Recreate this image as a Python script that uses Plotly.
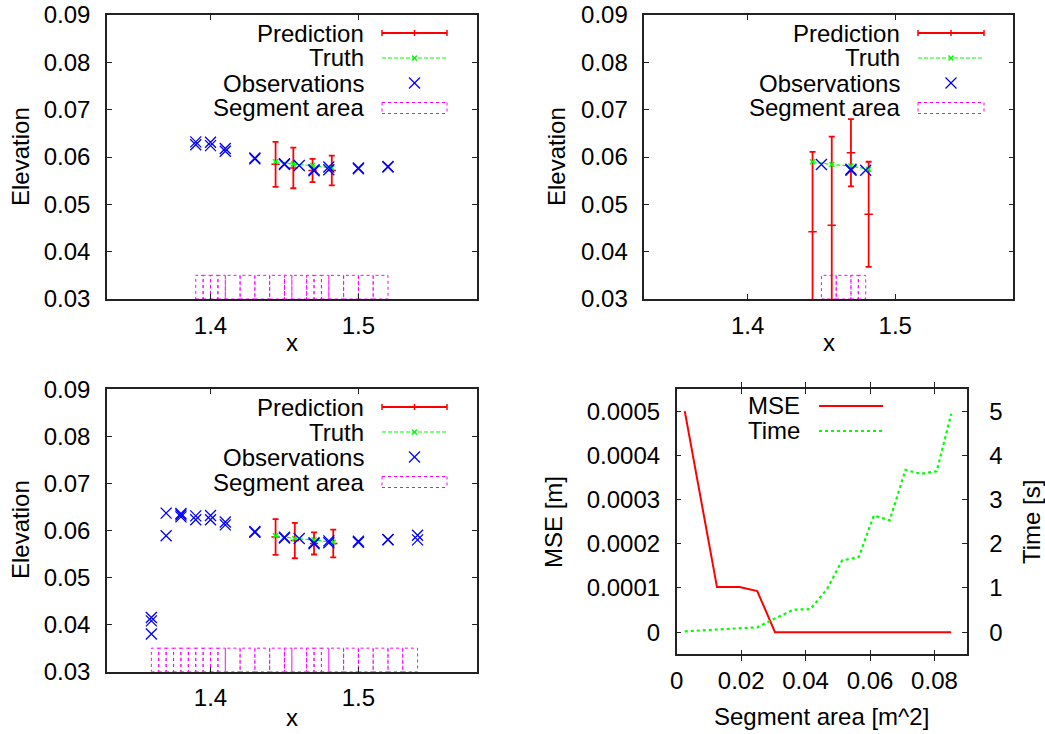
import plotly.graph_objects as go

W, H = 1045, 734

# ---- panel data (top-left / top-right / bottom-left) ----
obs_x_a = [1.39, 1.39, 1.40, 1.40, 1.41, 1.41, 1.43, 1.43, 1.45, 1.45, 1.46,
           1.47, 1.47, 1.48, 1.48, 1.50, 1.50, 1.52, 1.52]
obs_y_a = [0.0632, 0.0626, 0.0631, 0.0624, 0.0618, 0.0612, 0.0598, 0.0596, 0.0586, 0.0584, 0.0582,
           0.0573, 0.0571, 0.0579, 0.0573, 0.0577, 0.0575, 0.0580, 0.0579]
pred_x_a = [1.444, 1.456, 1.469, 1.482]
pred_y_a = [0.05845, 0.0577, 0.05715, 0.05715]
pred_e_a = [0.00475, 0.0043, 0.00245, 0.00315]
truth_y_a = [0.0590, 0.0585, 0.0582, 0.0577]
seg_a = [1.39, 1.395, 1.40, 1.405, 1.41, 1.42, 1.43, 1.44, 1.45, 1.455, 1.465,
         1.47, 1.475, 1.48, 1.49, 1.50, 1.51, 1.52]

obs_x_b = [1.45, 1.47, 1.47, 1.48]
obs_y_b = [0.0584, 0.0574, 0.0572, 0.0572]
pred_x_b = [1.444, 1.457, 1.470, 1.482]
pred_y_b = [0.0442, 0.0456, 0.0609, 0.0479]
pred_e_b = [0.0169, 0.0187, 0.0071, 0.0111]
truth_y_b = [0.0590, 0.0584, 0.0581, 0.0574]
seg_b = [1.45, 1.46, 1.47, 1.475, 1.48]

obs_x_c = [1.36, 1.36, 1.36, 1.37, 1.37, 1.38, 1.38, 1.38, 1.39, 1.39, 1.40, 1.40,
           1.41, 1.41, 1.43, 1.43, 1.45, 1.45, 1.46, 1.47, 1.47, 1.48, 1.48,
           1.50, 1.50, 1.52, 1.52, 1.54, 1.54]
obs_y_c = [0.0415, 0.0408, 0.0380, 0.0637, 0.0589, 0.0636, 0.0633, 0.0629, 0.0631, 0.0623,
           0.0632, 0.0623, 0.0618, 0.0612, 0.0598, 0.0596, 0.0586, 0.0584, 0.0583,
           0.0574, 0.0572, 0.0578, 0.0574, 0.0577, 0.0575, 0.0581, 0.0580, 0.0590, 0.0580]
pred_x_c = [1.444, 1.457, 1.470, 1.483]
pred_y_c = [0.0586, 0.05785, 0.05725, 0.05725]
pred_e_c = [0.0038, 0.00375, 0.00235, 0.00295]
truth_y_c = [0.0589, 0.0583, 0.0580, 0.0575]
seg_c = [1.36, 1.365, 1.37, 1.375, 1.38, 1.385, 1.39, 1.395, 1.40, 1.405, 1.41, 1.42,
         1.43, 1.44, 1.45, 1.455, 1.465, 1.47, 1.475, 1.48, 1.49, 1.50, 1.51, 1.52,
         1.53, 1.54]
seg_base, seg_top = 0.03, 0.035

# ---- bottom-right: MSE / time vs segment area ----
seg_area = [0.0025, 0.0125, 0.0195, 0.025, 0.0305, 0.0363, 0.0415, 0.0467, 0.0513,
            0.0565, 0.0612, 0.0661, 0.071, 0.0757, 0.0807, 0.0852]
mse = [0.0005, 0.000102, 0.000102, 0.000093, 0, 0, 0, 0, 0, 0, 0, 0, 0, 0, 0, 0]
run_time = [0.02, 0.06, 0.08, 0.11, 0.31, 0.51, 0.52, 0.98, 1.62, 1.70, 2.64, 2.53,
            3.67, 3.58, 3.64, 4.94]

RED, GREEN, BLUE, MAG = "#ff0000", "#00ff00", "#0000ff", "#ff00ff"
FONT = "Liberation Sans, Arial, sans-serif"
FS = 24
TRUTH_DASH = "4px,2px"


def px(x):
    return x / W


def py(y):
    return 1 - y / H


def seg_path(edges):
    xs, ys = [], []
    for a, b in zip(edges[:-1], edges[1:]):
        xs += [a, b, b, a, a, None]
        ys += [seg_base, seg_base, seg_top, seg_top, seg_base, None]
    return xs, ys


fig = go.Figure()

panels = [
    ("x", "y", obs_x_a, obs_y_a, pred_x_a, pred_y_a, pred_e_a, truth_y_a, seg_a),
    ("x2", "y2", obs_x_b, obs_y_b, pred_x_b, pred_y_b, pred_e_b, truth_y_b, seg_b),
    ("x3", "y3", obs_x_c, obs_y_c, pred_x_c, pred_y_c, pred_e_c, truth_y_c, seg_c),
]
for xa, ya, ox, oy, prx, pry, pre, ty, seg in panels:
    sx, sy = seg_path(seg)
    fig.add_trace(go.Scatter(x=sx, y=sy, mode="lines", xaxis=xa, yaxis=ya,
                             line=dict(color=MAG, width=1, dash="dot"), showlegend=False))
    fig.add_trace(go.Scatter(x=prx, y=pry, mode="markers", xaxis=xa, yaxis=ya,
                             marker=dict(symbol="line-ew", size=6, color=RED,
                                         line=dict(color=RED, width=1.5)),
                             error_y=dict(type="data", array=pre, color=RED,
                                          thickness=1.8, width=3),
                             showlegend=False))
    fig.add_trace(go.Scatter(x=prx, y=ty, mode="lines+markers", xaxis=xa, yaxis=ya,
                             line=dict(color=GREEN, width=1.2, dash=TRUTH_DASH),
                             marker=dict(symbol="x-thin", size=5, color=GREEN,
                                         line=dict(color=GREEN, width=1.5)),
                             showlegend=False))
    fig.add_trace(go.Scatter(x=ox, y=oy, mode="markers", xaxis=xa, yaxis=ya,
                             marker=dict(symbol="x-thin", size=11, color=BLUE,
                                         line=dict(color=BLUE, width=1.3)),
                             showlegend=False))

fig.add_trace(go.Scatter(x=seg_area, y=mse, mode="lines", xaxis="x4", yaxis="y4",
                         line=dict(color=RED, width=2), showlegend=False))
fig.add_trace(go.Scatter(x=seg_area, y=run_time, mode="lines", xaxis="x4", yaxis="y5",
                         line=dict(color=GREEN, width=2.2, dash="dot"), showlegend=False))

axis_common = dict(showline=True, linecolor="#222", linewidth=1.5, mirror="allticks",
                   ticks="inside", ticklen=5, tickcolor="#222", showgrid=False,
                   zeroline=False, automargin=False,
                   tickfont=dict(family=FONT, size=FS, color="black"))

elev_y = dict(axis_common, range=[0.03, 0.09], tickvals=[0.03, 0.04, 0.05, 0.06, 0.07, 0.08, 0.09],
              ticktext=["0.03", "0.04", "0.05", "0.06", "0.07", "0.08", "0.09"],
              ticklabelstandoff=10)
pos_x = dict(axis_common, range=[1.33, 1.58], tickvals=[1.4, 1.5], ticktext=["1.4", "1.5"],
             ticklabelstandoff=4)

doms = {
    "a": ([px(107), px(476.7)], [py(299), py(15)]),
    "b": ([px(644.3), px(1013.3)], [py(299), py(15)]),
    "c": ([px(107), px(476.7)], [py(671.7), py(389.3)]),
    "d": ([px(676.7), px(966.7)], [py(654.3), py(389)]),
}

fig.update_layout(
    width=W, height=H,
    margin=dict(l=0, r=0, t=0, b=0),
    paper_bgcolor="white", plot_bgcolor="white",
    font=dict(family=FONT, size=FS, color="black"),
    showlegend=False,
    xaxis=dict(pos_x, domain=doms["a"][0], anchor="y"),
    yaxis=dict(elev_y, domain=doms["a"][1], anchor="x"),
    xaxis2=dict(pos_x, domain=doms["b"][0], anchor="y2"),
    yaxis2=dict(elev_y, domain=doms["b"][1], anchor="x2"),
    xaxis3=dict(pos_x, domain=doms["c"][0], anchor="y3"),
    yaxis3=dict(elev_y, domain=doms["c"][1], anchor="x3"),
    xaxis4=dict(axis_common, domain=doms["d"][0], anchor="y4", range=[0, 0.09],
                tickvals=[0, 0.02, 0.04, 0.06, 0.08],
                ticktext=["0", "0.02", "0.04", "0.06", "0.08"], ticklabelstandoff=4),
    yaxis4=dict(axis_common, domain=doms["d"][1], anchor="x4", range=[-0.00005, 0.00055],
                mirror=True, tickvals=[0, 0.0001, 0.0002, 0.0003, 0.0004, 0.0005],
                ticktext=["0", "0.0001", "0.0002", "0.0003", "0.0004", "0.0005"],
                ticklabelstandoff=10),
    yaxis5=dict(axis_common, overlaying="y4", anchor="x4", side="right", range=[-0.5, 5.5],
                mirror=False, tickvals=[0, 1, 2, 3, 4, 5],
                ticktext=["0", "1", "2", "3", "4", "5"], ticklabelstandoff=16),
)

# ---- axis titles ----
titles = [
    ("Elevation", 20, 157, 270), ("x", 292, 342, 0),
    ("Elevation", 556, 157, 270), ("x", 829, 342, 0),
    ("Elevation", 20, 530, 270), ("x", 292, 717, 0),
    ("MSE [m]", 553, 522, 270), ("Time [s]", 1031, 522, 270),
    ("Segment area [m^2]", 821, 716, 0),
]
for text, tx, ty, ang in titles:
    fig.add_annotation(text=text, x=px(tx), y=py(ty), xref="paper", yref="paper",
                       showarrow=False, textangle=ang, xanchor="center", yanchor="middle",
                       font=dict(family=FONT, size=FS, color="black"))


# ---- gnuplot style keys: text right-aligned, sample on the right ----
def line_shape(x0, y0, x1, y1, color, width=1.5, dash="solid"):
    fig.add_shape(type="line", xref="paper", yref="paper",
                  x0=px(x0), y0=py(y0), x1=px(x1), y1=py(y1),
                  line=dict(color=color, width=width, dash=dash))


def cross(cx, cy, r, color, width):
    line_shape(cx - r, cy - r, cx + r, cy + r, color, width)
    line_shape(cx - r, cy + r, cx + r, cy - r, color, width)


def key(text_right, s0, s1, rows):
    for label, kind, yy in rows:
        fig.add_annotation(text=label, x=px(text_right), y=py(yy), xref="paper", yref="paper",
                           showarrow=False, xanchor="right", yanchor="middle",
                           font=dict(family=FONT, size=FS, color="black"))
        mid = (s0 + s1) / 2
        if kind == "pred":
            line_shape(s0, yy, s1, yy, RED, 1.8)
            for xx in (s0, mid, s1):
                line_shape(xx, yy - 3, xx, yy + 3, RED, 1.5)
        elif kind == "truth":
            line_shape(s0, yy, s1, yy, GREEN, 1.2, TRUTH_DASH)
            cross(mid, yy, 2.5, GREEN, 1.5)
        elif kind == "obs":
            cross(mid, yy, 5.5, BLUE, 1.3)
        elif kind == "seg":
            for x0, y0, x1, y1 in [(s0, yy - 5.5, s1, yy - 5.5), (s0, yy + 5.5, s1, yy + 5.5),
                                   (s0, yy - 5.5, s0, yy + 5.5), (s1, yy - 5.5, s1, yy + 5.5)]:
                line_shape(x0, y0, x1, y1, MAG, 1, "dot")
        elif kind == "mse":
            line_shape(s0, yy, s1, yy, RED, 2)
        elif kind == "time":
            line_shape(s0, yy, s1, yy, GREEN, 2.2, "dot")


names = ["Prediction", "Truth", "Observations", "Segment area"]
kinds = ["pred", "truth", "obs", "seg"]
key(366, 382, 447, [(n, k, 33 + 25 * i) for i, (n, k) in enumerate(zip(names, kinds))])
key(902, 918, 984, [(n, k, 33 + 25 * i) for i, (n, k) in enumerate(zip(names, kinds))])
key(366, 382, 447, [(n, k, 407 + 25 * i) for i, (n, k) in enumerate(zip(names, kinds))])
key(802, 819, 883, [("MSE", "mse", 406), ("Time", "time", 431)])

fig.write_html("out.html", config={"displayModeBar": False},
               post_script="document.body.style.margin='0px';document.body.style.overflow='hidden';")
